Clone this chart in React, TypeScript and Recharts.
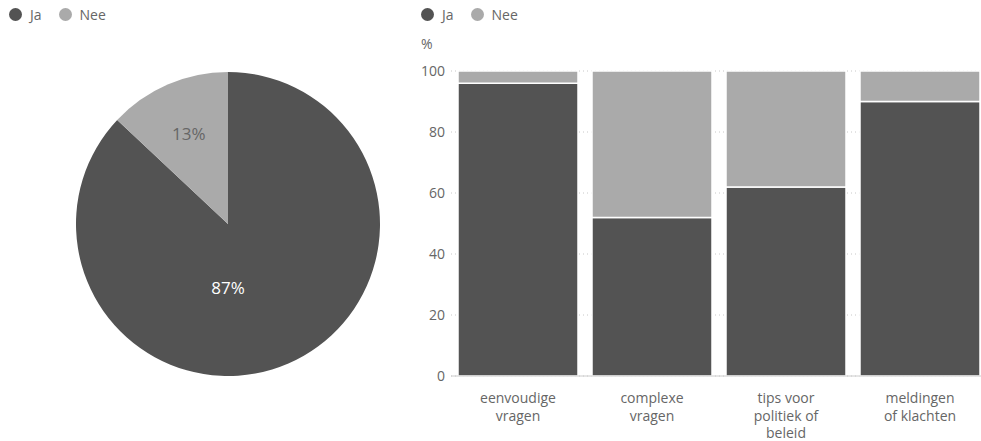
import React from 'react';
import { PieChart, Pie, Cell, BarChart, Bar, XAxis, YAxis, CartesianGrid } from 'recharts';

// Overall answers (pie)
const pieNames = ['Ja', 'Nee'];
const pieValues = [87, 13];

// Per question type (stacked bars, %)
const categories = ['eenvoudige\nvragen', 'complexe\nvragen', 'tips voor\npolitiek of\nbeleid', 'meldingen\nof klachten'];
const jaValues = [96, 52, 62, 90];
const neeValues = [4, 48, 38, 10];
const yTicks = [0, 20, 40, 60, 80, 100];

const DARK = '#535353';
const LIGHT = '#aaaaaa';
const TEXT = '#666666';
const FONT = '"Open Sans", "Noto Sans", sans-serif';

const pieData = pieNames.map((name, i) => ({ name, value: pieValues[i] }));
const barData = categories.map((name, i) => ({ name, ja: jaValues[i], nee: neeValues[i] }));

function LegendRow({ left }: { left: number }) {
  const item = (color: string, label: string) => (
    <div style={{ display: 'flex', alignItems: 'center', marginRight: 17 }}>
      <span style={{ width: 13, height: 13, borderRadius: '50%', background: color, display: 'inline-block', marginRight: 8 }} />
      <span style={{ fontSize: 14, color: TEXT }}>{label}</span>
    </div>
  );
  return (
    <div style={{ position: 'absolute', left, top: 5, display: 'flex', fontFamily: FONT }}>
      {item(DARK, 'Ja')}
      {item(LIGHT, 'Nee')}
    </div>
  );
}

const renderPieLabel = (props: any) => {
  const { cx, cy, midAngle, outerRadius, value, percent } = props;
  const RAD = Math.PI / 180;
  let x: number, y: number;
  if (percent > 0.5) {
    x = cx;
    y = cy + outerRadius * 0.42;
  } else {
    const r = outerRadius * 0.65;
    x = cx + r * Math.cos(-midAngle * RAD);
    y = cy + r * Math.sin(-midAngle * RAD);
  }
  return (
    <text x={x} y={y} textAnchor="middle" dominantBaseline="central"
      fill={percent > 0.5 ? '#ffffff' : '#666666'} fontSize={17} fontFamily={FONT}>
      {value}%
    </text>
  );
};

const CategoryTick = (props: any) => {
  const { x, y, payload } = props;
  const lines = String(payload.value).split('\n');
  return (
    <text x={x} y={y + 19} textAnchor="middle" fill={TEXT} fontSize={14} fontFamily={FONT}>
      {lines.map((l, i) => (
        <tspan key={i} x={x} dy={i === 0 ? 0 : 17.5}>{l}</tspan>
      ))}
    </text>
  );
};

export default function App() {
  return (
    <div style={{ position: 'fixed', left: 0, top: 0, width: 981, height: 441, background: '#fff', overflow: 'hidden', fontFamily: FONT }}>
      <LegendRow left={9} />
      <LegendRow left={421} />

      <div style={{ position: 'absolute', left: 0, top: 0 }}>
        <PieChart width={420} height={441} margin={{ top: 0, right: 0, bottom: 0, left: 0 }}>
          <Pie data={pieData} dataKey="value" nameKey="name" cx={228} cy={224} outerRadius={152}
            startAngle={90} endAngle={-270} stroke="none" label={renderPieLabel} labelLine={false}
            isAnimationActive={false}>
            <Cell fill={DARK} />
            <Cell fill={LIGHT} />
          </Pie>
        </PieChart>
      </div>

      <div style={{ position: 'absolute', left: 421, top: 34, fontSize: 14, color: TEXT }}>%</div>

      <div style={{ position: 'absolute', left: 410, top: 0 }}>
        <BarChart width={590} height={441} data={barData} margin={{ top: 71, right: 13, bottom: 35, left: 0 }}
          barCategoryGap={7}>
          <CartesianGrid vertical={false} stroke="#c8c8c8" strokeDasharray="1 3" />
          <XAxis dataKey="name" height={30} tick={<CategoryTick />} tickLine={false} axisLine={{ stroke: '#cccccc' }} interval={0} />
          <YAxis width={41} domain={[0, 100]} ticks={yTicks} tickLine={false} axisLine={false}
            tick={{ fill: TEXT, fontSize: 14, fontFamily: FONT }} tickMargin={0} />
          <Bar dataKey="ja" stackId="a" fill={DARK} stroke="#fff" strokeWidth={1.5} isAnimationActive={false} />
          <Bar dataKey="nee" stackId="a" fill={LIGHT} stroke="#fff" strokeWidth={1.5} isAnimationActive={false} />
        </BarChart>
      </div>
    </div>
  );
}
